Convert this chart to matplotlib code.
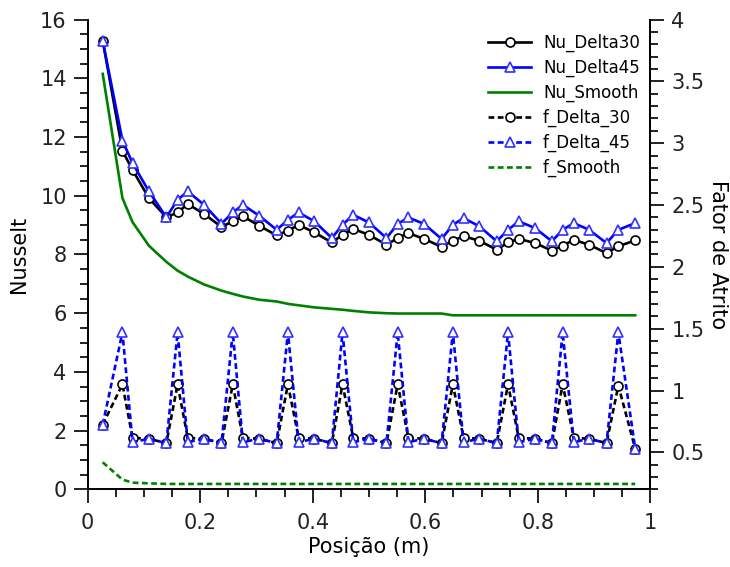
import matplotlib
matplotlib.use("Agg")
import matplotlib.pyplot as plt
from matplotlib.ticker import MultipleLocator

# Posições dos pontos ao longo do canal (m)
pos = [0.027,
       0.062, 0.080, 0.109, 0.140,
       0.160, 0.178, 0.207, 0.238,
       0.258, 0.276, 0.305, 0.336,
       0.356, 0.375, 0.403, 0.434,
       0.453, 0.472, 0.500, 0.531,
       0.551, 0.570, 0.598, 0.629,
       0.649, 0.668, 0.696, 0.727,
       0.747, 0.766, 0.795, 0.825,
       0.844, 0.864, 0.891, 0.922,
       0.943, 0.973]

# Número de Nusselt
nu_delta30 = [15.28,
              11.53, 10.88, 9.92, 9.27,
              9.43, 9.72, 9.38, 8.94,
              9.13, 9.30, 8.98, 8.65,
              8.81, 9.01, 8.75, 8.41,
              8.67, 8.87, 8.67, 8.33,
              8.56, 8.73, 8.53, 8.26,
              8.47, 8.62, 8.47, 8.16,
              8.41, 8.53, 8.39, 8.13,
              8.30, 8.50, 8.33, 8.05,
              8.28, 8.48]
nu_delta45 = [15.28,
              11.88, 11.11, 10.15, 9.27,
              9.86, 10.15, 9.69, 9.05,
              9.43, 9.69, 9.32, 8.84,
              9.18, 9.43, 9.13, 8.56,
              9.01, 9.35, 9.09, 8.56,
              9.04, 9.26, 9.04, 8.53,
              9.01, 9.24, 8.96, 8.45,
              8.84, 9.13, 8.90, 8.45,
              8.84, 9.07, 8.84, 8.39,
              8.84, 9.07]
nu_smooth = [14.15,
             9.92, 9.10, 8.30, 7.75,
             7.45, 7.25, 6.98, 6.77,
             6.66, 6.57, 6.46, 6.40,
             6.32, 6.27, 6.20, 6.15,
             6.12, 6.08, 6.03, 6.00,
             5.99, 5.99, 5.99, 5.99,
             5.93, 5.93, 5.93, 5.93,
             5.93, 5.93, 5.93, 5.93,
             5.93, 5.93, 5.93, 5.93,
             5.93, 5.93]

# Fator de atrito
f_delta30 = [0.725,
             1.05, 0.618, 0.61, 0.575,
             1.05, 0.618, 0.61, 0.575,
             1.05, 0.618, 0.61, 0.575,
             1.05, 0.618, 0.61, 0.575,
             1.05, 0.618, 0.61, 0.575,
             1.05, 0.618, 0.61, 0.575,
             1.05, 0.618, 0.61, 0.575,
             1.05, 0.618, 0.61, 0.575,
             1.05, 0.618, 0.61, 0.575,
             1.04, 0.53]
f_delta45 = [0.725,
             1.47, 0.583, 0.61, 0.575,
             1.47, 0.583, 0.61, 0.575,
             1.47, 0.583, 0.61, 0.575,
             1.47, 0.583, 0.61, 0.575,
             1.47, 0.583, 0.61, 0.575,
             1.47, 0.583, 0.61, 0.575,
             1.47, 0.583, 0.61, 0.575,
             1.47, 0.583, 0.61, 0.575,
             1.47, 0.583, 0.61, 0.575,
             1.47, 0.53]
f_smooth = [0.42,
            0.28, 0.255, 0.25, 0.245,
            0.245, 0.245, 0.245, 0.245,
            0.245, 0.245, 0.245, 0.245,
            0.245, 0.245, 0.245, 0.245,
            0.245, 0.245, 0.245, 0.245,
            0.245, 0.245, 0.245, 0.245,
            0.245, 0.245, 0.245, 0.245,
            0.245, 0.245, 0.245, 0.245,
            0.245, 0.245, 0.245, 0.245,
            0.245, 0.245]

FS = 15
lw = 1.9
dash = (0, (2.2, 1.3))

fig = plt.figure(figsize=(7.3, 5.67), dpi=100)
ax = fig.add_axes([0.1199, 0.1367, 0.7711, 0.8289])
ax2 = ax.twinx()

circ = dict(marker='o', ms=6.5, mfc='white', mec='black', mew=1.2)
tri = dict(marker='^', ms=6.5, mfc='white', mec='#3030ff', mew=1.2)

h1, = ax.plot(pos, nu_delta30, color='black', lw=lw, label='Nu_Delta30', **circ)
h2, = ax.plot(pos, nu_delta45, color='blue', lw=lw, label='Nu_Delta45', **tri)
h3, = ax.plot(pos, nu_smooth, color='#008000', lw=lw, label='Nu_Smooth')
h4, = ax2.plot(pos, f_delta30, color='black', lw=lw, ls=dash, label='f_Delta_30', **circ)
h5, = ax2.plot(pos, f_delta45, color='blue', lw=lw, ls=dash, label='f_Delta_45', **tri)
h6, = ax2.plot(pos, f_smooth, color='#008000', lw=lw, ls=dash, label='f_Smooth')

ax.set_xlim(0, 1)
ax.set_ylim(0, 16)
ax2.set_ylim(0.2, 4)

ax.xaxis.set_minor_locator(MultipleLocator(0.05))
ax.yaxis.set_major_locator(MultipleLocator(2))
ax.yaxis.set_minor_locator(MultipleLocator(0.5))
ax2.yaxis.set_minor_locator(MultipleLocator(0.1))

ax.set_xticks([0, 0.2, 0.4, 0.6, 0.8, 1.0])
ax.set_xticklabels(['0', '0.2', '0.4', '0.6', '0.8', '1'])
ax2.set_yticks([0.5, 1, 1.5, 2, 2.5, 3, 3.5, 4])
ax2.set_yticklabels(['0.5', '1', '1.5', '2', '2.5', '3', '3.5', '4'])

for a in (ax, ax2):
    a.spines['top'].set_visible(False)
    for s in a.spines.values():
        s.set_linewidth(1.4)
    a.tick_params(which='major', direction='out', length=10, width=1.4,
                  labelsize=FS, pad=5, colors='#222222')
    a.tick_params(which='minor', direction='out', length=6, width=1.4,
                  colors='#222222')
ax.tick_params(axis='x', pad=7)
ax2.spines['left'].set_visible(False)
ax2.spines['bottom'].set_visible(False)

ax.set_xlabel('Posição (m)', fontsize=FS, labelpad=3)
ax.set_ylabel('Nusselt', fontsize=FS, labelpad=8)
ax2.set_ylabel('Fator de Atrito', fontsize=FS, rotation=270, labelpad=17)

fig.legend(handles=[h1, h2, h3, h4, h5, h6], loc='upper left',
           bbox_to_anchor=(488 / 730, 1 - 34 / 567), bbox_transform=fig.transFigure,
           frameon=False, fontsize=12, handlelength=2.6, handletextpad=0.7,
           labelspacing=0.4, borderpad=0, borderaxespad=0)

fig.savefig('out.png', dpi=100)
